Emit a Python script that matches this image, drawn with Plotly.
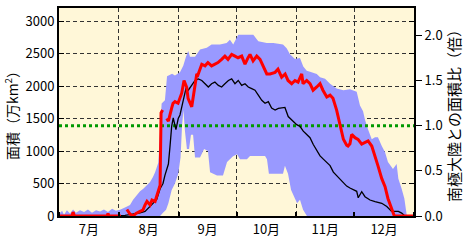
import plotly.graph_objects as go
import pandas as pd

# ---------------- data (days after 1 July, values in 万km2) ----------------
red_days = [0, 3.6, 6.7, 7.3, 8.0, 16.1, 24.9, 25.4, 25.9, 32.1, None,
            35.2, 36.8, 38.4, 39.9, 42.0, 43.5, 44.6, 45.6, 47.2, 48.2, 49.8, 51.3, 52.4, 52.9, 53.7, None,
            55.8, 56.7, 58.4, 59.1, 60.1, 61.7, 63.6, 64.8, 66.2, 66.9, 68.8, 69.5, 71.4, 72.0,
            74.0, 75.7, 77.2, 79.1, 80.8, 82.4, 84.3, 86.0, 87.6, 89.5, 91.2, 92.8, 94.7, 96.4,
            98.0, 99.0, 100.6, 102.5, 104.2, 105.7, 107.7, 109.4, 112.0, 113.5, 115.4, 117.2,
            118.7, 120.6, 122.3, 123.9, 125.8, 126.5, 128.4, 130.1, 131.7, 133.6, 135.3, 136.8,
            138.8, 140.5, 142.0, 143.9, 145.7, 147.4, 149.1, 149.8, 150.8, 151.7, 153.4, 155.0,
            156.9, 158.6, 160.2, 162.1, 163.8, 165.3, 167.3, 169.0, 170.5, 172.4, 173.8, 184]
red_vals = [0, 0, 0, 60, 0, 0, 0, 40, 0, 0, None,
            100, 30, 0, 40, 70, 90, 170, 225, 170, 246, 225, 377, 473, 1585, 1630, None,
            1500, 1460, 1660, 1735, 1760, 1735, 1890, 2085, 1980, 1810, 1680, 1830, 2185, 2170,
            2335, 2310, 2360, 2310, 2335, 2360, 2410, 2460, 2410, 2485, 2460, 2435, 2460, 2335,
            2435, 2485, 2385, 2460, 2410, 2310, 2185, 2185, 2210, 2260, 2135, 2185,
            2085, 2035, 2085, 2060, 2185, 2035, 2085, 2035, 1935, 1985, 2035, 1935,
            1830, 1860, 1810, 1630, 1380, 1180, 1090, 1077, 1110, 1255, 1205, 1180,
            1105, 1130, 1155, 1077, 925, 775, 575, 450, 270, 120, 0, 0]

black_days = [0, 32.7, 34.2, 36.8, 39.4, 42.0, 44.6, 47.2, 50.6, 52.4, 53.9, 54.9, 56.7, 57.5,
              58.4, 59.2, 60.6, 61.8, 62.7, 64.4, 65.8, 67.0, 68.8, 70.5, 72.2, 74.0, 75.7,
              77.4, 79.1, 80.8, 82.6, 84.3, 86.0, 87.8, 89.5, 91.2, 92.9, 94.7, 96.4, 98.1,
              99.9, 101.6, 103.3, 105.1, 106.8, 108.5, 110.2, 112.0, 113.7, 117.1, 118.8,
              120.6, 123.2, 124.9, 126.6, 128.4, 130.1, 131.8, 133.6, 135.3, 137.0, 138.8,
              140.5, 142.2, 143.9, 145.7, 147.4, 149.1, 150.8, 152.5, 154.3, 155.1, 156.0,
              156.9, 158.6, 161.2, 163.8, 167.3, 169.9, 172.4, 175.9, 177.6, 179.3, 184]
black_vals = [0, 0, 10, 20, 30, 50, 70, 150, 250, 420, 500, 625, 800, 1060,
              1380, 1510, 1330, 1500, 1555, 1780, 1960, 1935, 2010, 2085, 2110, 2085, 2035,
              1985, 2035, 2060, 2010, 1985, 2035, 2085, 2110, 2035, 2085, 2010, 2035, 1985,
              1960, 1935, 1860, 1780, 1735, 1760, 1660, 1630, 1655, 1670, 1530,
              1480, 1405, 1380, 1305, 1255, 1205, 1100, 1000, 925, 875, 825,
              775, 675, 625, 575, 525, 460, 430, 400, 380, 280, 330,
              373, 297, 246, 222, 196, 146, 71, 71, 45, 0, 0]

band_top_days = [0, 1.6, 2.6, 4.1, 5.7, 7.3, 8.8, 10.9, 13.0, 15.0, 17.1, 19.2, 21.3, 23.3,
                 25.4, 27.5, 29.5, 31.6, 34.2, 36.8, 38.4, 40.3, 42.0, 43.7, 45.6, 47.2,
                 48.7, 49.8, 51.5, 52.4, 53.2, 54.9, 56.0, 58.6, 60.1, 62.7, 64.4, 65.8,
                 67.0, 67.9, 70.5, 73.1, 76.6, 79.1, 83.4, 86.9, 88.6, 90.3, 92.9, 95.5,
                 99.0, 100.7, 103.3, 107.7, 111.1, 114.5, 116.1, 118.0, 119.7, 122.3, 124.9,
                 126.6, 128.4, 130.1, 133.6, 135.3, 137.9, 140.5, 143.9, 147.4, 150.8,
                 154.3, 156.0, 157.6, 158.6, 160.2, 162.1, 163.8, 165.3, 167.3, 169.0,
                 170.5, 173.1, 175.0, 175.9, 177.6, 179.0, 180.2, 181.1, 184]
band_top_vals = [30, 80, 20, 90, 40, 100, 50, 90, 60, 100, 50, 90, 70, 100,
                 60, 110, 80, 95, 130, 170, 250, 320, 380, 420, 470, 525,
                 600, 675, 825, 1330, 1730, 1780, 2150, 2190, 2160, 2210, 2310, 2450,
                 2540, 2450, 2450, 2560, 2590, 2640, 2640, 2660, 2710, 2640, 2790, 2790,
                 2790, 2790, 2690, 2660, 2660, 2650, 2640, 2580, 2490, 2415, 2430,
                 2300, 2235, 2220, 2185, 2135, 2110, 2035, 1960, 1935, 1950,
                 1910, 1700, 1610, 1480, 1330, 1180, 1210, 1210, 1077, 980,
                 830, 725, 800, 575, 420, 270, 20, 0, 0]

band_low_days = [0, 52.4, 53.9, 55.5, 56.7, 58.4, 60.1, 61.8, 63.0, 63.8, 64.5, 65.3, 66.3,
                 67.4, 68.4, 69.5, 70.5, 73.1, 75.2, 77.2, 78.3, 81.9, 85.0, 87.1, 90.2,
                 92.3, 93.8, 97.4, 99.0, 106.8, 107.8, 108.8, 116.1, 117.1, 118.7, 120.3,
                 123.4, 124.9, 126.5, 128.5, 184]
band_low_vals = [0, 0, 50, 95, 196, 400, 500, 650, 900, 1400, 1630, 1300, 1030,
                 1030, 1250, 1250, 900, 900, 1030, 1000, 675, 625, 625, 830, 920,
                 950, 875, 875, 925, 925, 875, 650, 650, 775, 650, 400,
                 196, 250, 95, 0, 0]

ANTARCTIC_AREA = 1388  # 万km2, ratio = 1.0
ratio_ticks = [0.0, 0.5, 1.0, 1.5, 2.0]
area_ticks = [0, 500, 1000, 1500, 2000, 2500, 3000]
Y_MAX = 3200

BASE = pd.Timestamp("2021-07-01")
N_DAYS = 184


def to_dates(days):
    return [None if d is None else (BASE + pd.Timedelta(days=d)).strftime("%Y-%m-%d %H:%M:%S")
            for d in days]


FONT = "Noto Sans CJK JP"

fig = go.Figure()

# band (range of past years)
band_x = to_dates(band_top_days) + to_dates(band_low_days)[::-1]
band_y = band_top_vals + band_low_vals[::-1]
fig.add_trace(go.Scatter(x=band_x, y=band_y, fill="toself", fillcolor="#9999FF",
                         line=dict(width=0), mode="lines", hoverinfo="skip", showlegend=False))

# Antarctic continent area reference line
fig.add_trace(go.Scatter(x=to_dates([0, N_DAYS]), y=[ANTARCTIC_AREA, ANTARCTIC_AREA], mode="lines",
                         line=dict(color="#009900", width=3, dash="3px,3px"), showlegend=False))

fig.add_trace(go.Scatter(x=to_dates(black_days), y=black_vals, mode="lines",
                         line=dict(color="black", width=1.3), showlegend=False))

fig.add_trace(go.Scatter(x=to_dates(red_days), y=red_vals, mode="lines",
                         line=dict(color="#FF0000", width=3), showlegend=False))

# dummy trace to activate y2
fig.add_trace(go.Scatter(x=to_dates([0]), y=[0], yaxis="y2", mode="markers",
                         marker=dict(opacity=0), hoverinfo="skip", showlegend=False))

fig.update_layout(
    width=471, height=244,
    margin=dict(l=59, r=57, t=6, b=26),
    paper_bgcolor="white", plot_bgcolor="#FFF7D8",
    font=dict(family=FONT, size=13, color="black"),
    xaxis=dict(
        type="date",
        range=[BASE.strftime("%Y-%m-%d"), (BASE + pd.Timedelta(days=N_DAYS)).strftime("%Y-%m-%d")],
        tick0=BASE.strftime("%Y-%m-%d"), dtick="M1", ticklabelmode="period", tickformat="%-m月",
        showgrid=True, gridcolor="#333333", gridwidth=1, griddash="4px,3px",
        showline=True, linecolor="black", linewidth=2, mirror=True,
        ticks="inside", ticklen=4, tickcolor="black", tickwidth=2,
        tickfont=dict(size=13), zeroline=False,
    ),
    yaxis=dict(
        range=[0, Y_MAX], tickvals=area_ticks,
        showgrid=True, gridcolor="#333333", gridwidth=1, griddash="4px,3px",
        showline=True, linecolor="black", linewidth=2, mirror="ticks",
        ticks="inside", ticklen=5, tickcolor="black",
        zeroline=False, tickfont=dict(size=13),
        title=dict(text="面積（万km<sup>2</sup>）", font=dict(size=14), standoff=4),
    ),
    yaxis2=dict(
        overlaying="y", side="right",
        range=[0, Y_MAX / ANTARCTIC_AREA], tickvals=ratio_ticks, tickformat=".1f",
        showgrid=False, zeroline=False,
        showline=True, linecolor="black", linewidth=2,
        ticks="outside", ticklen=6, tickcolor="black",
        tickfont=dict(size=13),
        title=dict(text="南極大陸との面積比（倍）", font=dict(size=15), standoff=4),
    ),
)

fig.write_html("out.html")
